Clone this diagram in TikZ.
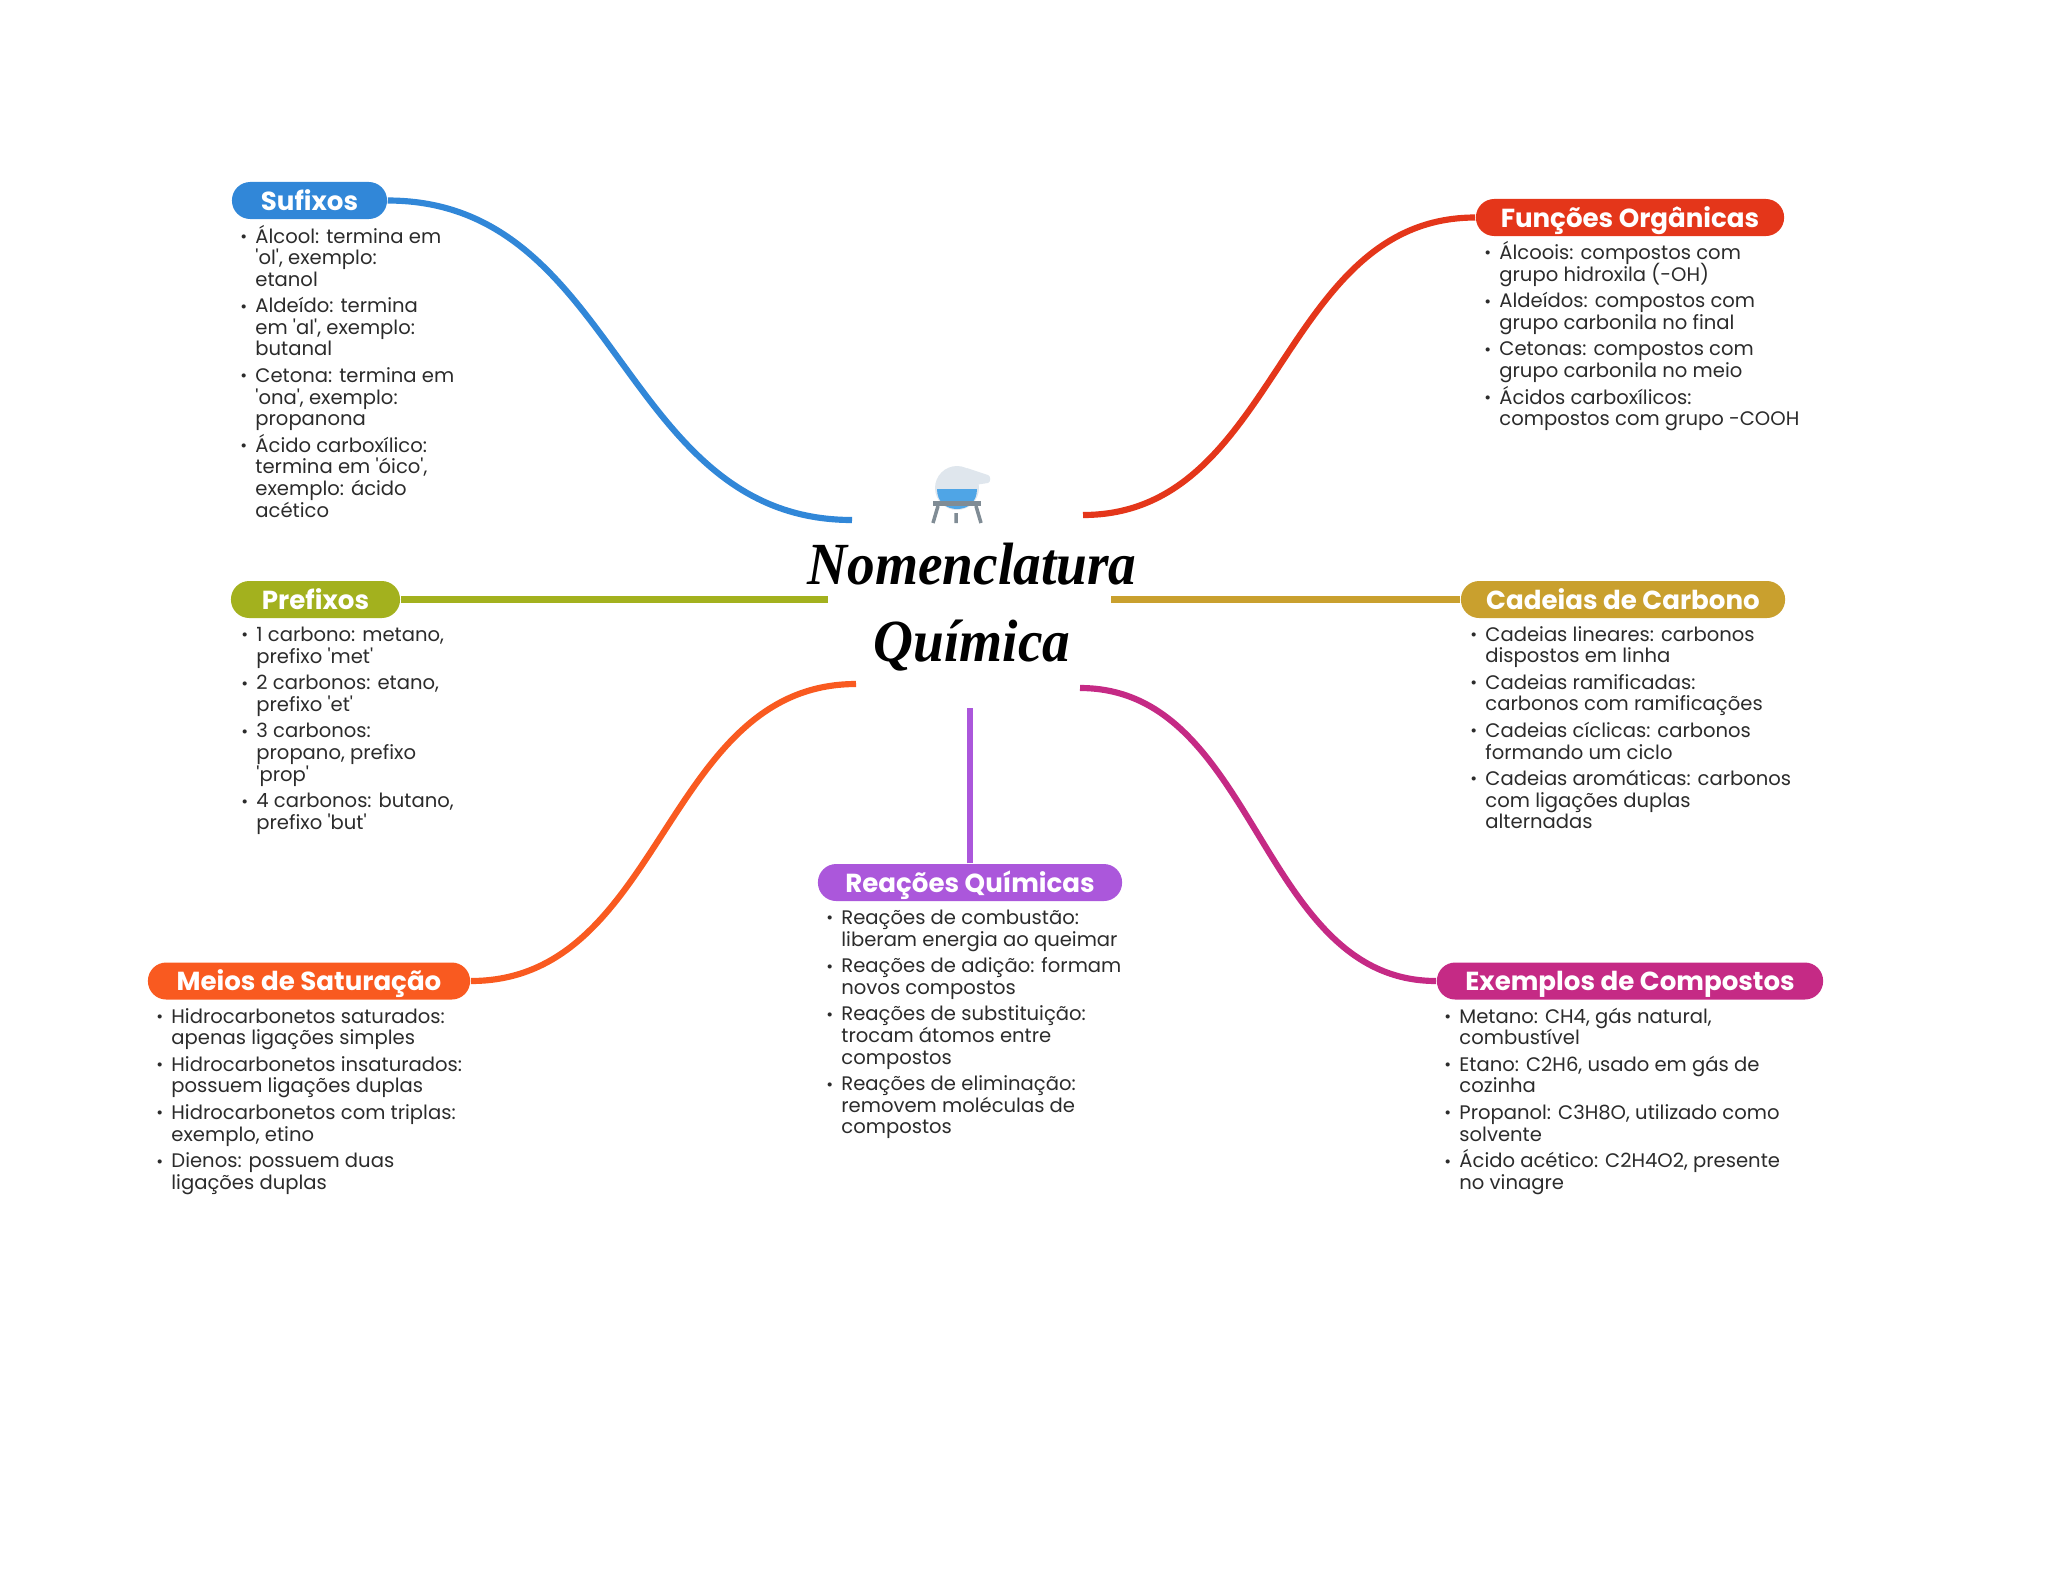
\documentclass[tikz,border=0pt]{standalone}
\usepackage{fontspec}
\newfontfamily\poppins{Poppins}
\newfontfamily\titlefont{Liberation Serif}
\definecolor{sufixoscol}{HTML}{3187D8}
\definecolor{funcoescol}{HTML}{E4361A}
\definecolor{prefixoscol}{HTML}{A3B11E}
\definecolor{cadeiascol}{HTML}{C9A02E}
\definecolor{meioscol}{HTML}{F95A20}
\definecolor{exemploscol}{HTML}{C52A85}
\definecolor{reacoescol}{HTML}{AB57DB}
\definecolor{listcol}{HTML}{2B2B2B}
\definecolor{flaskcol}{HTML}{DFE6ED}
\definecolor{liquidcol}{HTML}{4FA5E6}
\definecolor{standcol}{HTML}{808C95}
\newcommand{\itm}{\makebox[3.9pt][l]{\rule{0pt}{5.5pt}\hspace{-0.35pt}\raisebox{0.2pt}{\scalebox{0.85}{\textbullet}}}}
\newcommand{\nxt}{\makebox[3.9pt]{}}
\AtBeginDocument{\lineskiplimit=-10pt\relax}
\tikzset{
    pill/.style={fill=#1, rounded corners=5.2pt, inner sep=0pt, minimum height=0.37cm,
        text height=5.7pt, text depth=0.2pt, text=white, font=\poppins\bfseries\fontsize{7.42}{8}\selectfont},
    link/.style={draw=#1, line width=1.75pt},
    itemlist/.style={anchor=north west, align=left, inner sep=0pt, text=listcol,
        font=\poppins\fontsize{5.57}{6.13}\selectfont},
}
\begin{document}
\begin{tikzpicture}[x=0.01cm, y=-0.01cm]
    \useasboundingbox (0,0) rectangle (2048,1569);

    % Central title
    \node[align=center, inner sep=0pt, font=\titlefont\bfseries\itshape\fontsize{17}{21.9}\selectfont] (title) at (972,607) {\scalebox{0.925}[1]{Nomenclatura}\\\scalebox{0.925}[1]{Química}};

    % Flask above the title
    \fill[flaskcol] (957,488) circle (22);
    \fill[flaskcol] (967,468) -- (988,475) .. controls (991,476) and (991,482) .. (988,483) -- (975,485) -- cycle;
    \fill[liquidcol] (937,489) -- (977,489) .. controls (977,502) and (968,509) .. (957,509) .. controls (946,509) and (937,502) .. (937,489) -- cycle;
    \fill[standcol] (933,501) rectangle (981,506);
    \draw[standcol, line width=1pt] (938,506) -- (933,523) (976,506) -- (981,523) (956,513) -- (956,523);

    % Ends of the connectors around the title
    \coordinate (sufixosEnd) at (852,520);
    \coordinate (funcoesEnd) at (1083,515);
    \coordinate (prefixosEnd) at (828,599.5);
    \coordinate (cadeiasEnd) at (1111,599.5);
    \coordinate (meiosEnd) at (856,684);
    \coordinate (exemplosEnd) at (1080,688);
    \coordinate (reacoesEnd) at (970,708);

    % Topics
    \node[pill=sufixoscol, minimum width=1.55cm] (sufixos) at (309.5,200.5) {Sufixos};
    \node[pill=funcoescol, minimum width=3.08cm] (funcoes) at (1630,217.5) {Funções Orgânicas};
    \node[pill=prefixoscol, minimum width=1.69cm] (prefixos) at (315.5,599.5) {Prefixos};
    \node[pill=cadeiascol, minimum width=3.24cm] (cadeias) at (1623,599.5) {Cadeias de Carbono};
    \node[pill=meioscol, minimum width=3.22cm] (meios) at (309,981) {Meios de Saturação};
    \node[pill=exemploscol, minimum width=3.86cm] (exemplos) at (1630,981) {Exemplos de Compostos};
    \node[pill=reacoescol, minimum width=3.04cm] (reacoes) at (970,882.5) {Reações Químicas};

    % Connectors
    \draw[link=sufixoscol] (sufixos.east) .. controls +(232,0) and +(-232,0) .. (sufixosEnd);
    \draw[link=funcoescol] (funcoes.west) .. controls +(-196,0) and +(196,0) .. (funcoesEnd);
    \draw[link=prefixoscol] (prefixos.east) -- (prefixosEnd);
    \draw[link=cadeiascol] (cadeias.west) -- (cadeiasEnd);
    \draw[link=meioscol] (meios.east) .. controls +(193,0) and +(-193,0) .. (meiosEnd);
    \draw[link=exemploscol] (exemplos.west) .. controls +(-178,0) and +(178,0) .. (exemplosEnd);
    \draw[link=reacoescol] (reacoes.north) -- (reacoesEnd);

    % Lists under the topics
    \node[itemlist] (sufixoslist) at (241,223) {\itm Álcool: termina em\\\nxt 'ol', exemplo:\\\nxt etanol\\[1.45pt]
        \itm Aldeído: termina\\\nxt em 'al', exemplo:\\\nxt butanal\\[1.45pt]
        \itm Cetona: termina em\\\nxt 'ona', exemplo:\\\nxt propanona\\[1.45pt]
        \itm Ácido carboxílico:\\\nxt termina em 'óico',\\\nxt exemplo: ácido\\\nxt acético};
    \node[itemlist] (funcoeslist) at (1485,239.5) {\itm Álcoois: compostos com\\\nxt grupo hidroxila (-OH)\\[1.45pt]
        \itm Aldeídos: compostos com\\\nxt grupo carbonila no final\\[1.45pt]
        \itm Cetonas: compostos com\\\nxt grupo carbonila no meio\\[1.45pt]
        \itm Ácidos carboxílicos:\\\nxt compostos com grupo -COOH};
    \node[itemlist] (prefixoslist) at (242,621.5) {\itm 1 carbono: metano,\\\nxt prefixo 'met'\\[1.45pt]
        \itm 2 carbonos: etano,\\\nxt prefixo 'et'\\[1.45pt]
        \itm 3 carbonos:\\\nxt propano, prefixo\\\nxt 'prop'\\[1.45pt]
        \itm 4 carbonos: butano,\\\nxt prefixo 'but'};
    \node[itemlist] (cadeiaslist) at (1471,621) {\itm Cadeias lineares: carbonos\\\nxt dispostos em linha\\[1.45pt]
        \itm Cadeias ramificadas:\\\nxt carbonos com ramificações\\[1.45pt]
        \itm Cadeias cíclicas: carbonos\\\nxt formando um ciclo\\[1.45pt]
        \itm Cadeias aromáticas: carbonos\\\nxt com ligações duplas\\\nxt alternadas};
    \node[itemlist] (meioslist) at (157,1003) {\itm Hidrocarbonetos saturados:\\\nxt apenas ligações simples\\[1.45pt]
        \itm Hidrocarbonetos insaturados:\\\nxt possuem ligações duplas\\[1.45pt]
        \itm Hidrocarbonetos com triplas:\\\nxt exemplo, etino\\[1.45pt]
        \itm Dienos: possuem duas\\\nxt ligações duplas};
    \node[itemlist] (reacoeslist) at (827,904.5) {\itm Reações de combustão:\\\nxt liberam energia ao queimar\\[1.45pt]
        \itm Reações de adição: formam\\\nxt novos compostos\\[1.45pt]
        \itm Reações de substituição:\\\nxt trocam átomos entre\\\nxt compostos\\[1.45pt]
        \itm Reações de eliminação:\\\nxt removem moléculas de\\\nxt compostos};
    \node[itemlist] (exemploslist) at (1445,1003) {\itm Metano: CH4, gás natural,\\\nxt combustível\\[1.45pt]
        \itm Etano: C2H6, usado em gás de\\\nxt cozinha\\[1.45pt]
        \itm Propanol: C3H8O, utilizado como\\\nxt solvente\\[1.45pt]
        \itm Ácido acético: C2H4O2, presente\\\nxt no vinagre};
\end{tikzpicture}
\end{document}
